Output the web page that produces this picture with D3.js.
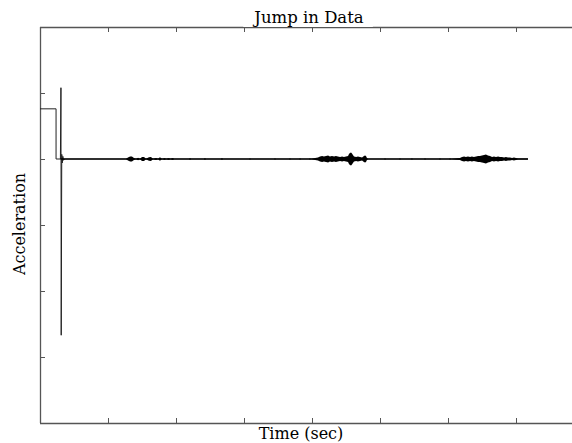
<!DOCTYPE html>
<html>
<head>
<meta charset="utf-8">
<script src="https://cdn.jsdelivr.net/npm/d3@7"></script>
<style>
body{margin:0;background:#fff;}
svg{display:block;}
text{font-family:"DejaVu Serif",serif;fill:#000;}
</style>
</head>
<body>
<svg id="chart" width="572" height="443"></svg>
<script>
const title = "Jump in Data";
const xLabel = "Time (sec)";
const yLabel = "Acceleration";
const xTicks = [0,5,10,15,20,25,30,35,40];
const yTicks = [-4,-3,-2,-1,0,1,2];

// step + jump at the start of the record
const startT = [0, 1.18, 1.18, 1.50, 1.54, 1.56, 1.60, 1.64, 1.68, 1.72, 1.80];
const startV = [0.76, 0.76, 0, 0, 1.08, -2.67, 0.07, -0.06, 0.04, -0.02, 0];

// dense oscillation of the remaining record, given as its envelope (time, half-amplitude)
const noiseT = [
 1.62, 6.32, 6.47, 6.62, 6.76, 6.91, 7.06, 7.21, 7.35, 7.50, 7.65, 7.79,
 8.01, 8.16, 8.31, 8.53, 8.68, 8.82, 8.97, 9.19, 9.26, 9.49, 9.56, 9.78, 9.85,
 10.96, 11.03, 11.10, 12.06, 12.13, 12.20, 13.31, 13.38, 13.45,
 15.37, 15.44, 15.51, 17.21, 17.28, 17.35, 18.31, 18.38, 18.45,
 19.05, 19.12, 19.19, 19.78, 19.85, 19.92,
 20.44, 20.59, 20.74, 20.88, 21.03, 21.18, 21.32, 21.47, 21.62, 21.76, 21.91,
 22.06, 22.21, 22.35, 22.50, 22.65, 22.72, 22.79, 22.87, 22.94, 23.01, 23.09,
 23.24, 23.38, 23.53, 23.68, 23.82, 23.90, 23.97, 24.04, 24.12,
 25.30, 25.37, 25.44, 26.40, 26.47, 26.54, 27.28, 27.35, 27.42,
 28.24, 28.31, 28.38, 29.34, 29.41, 29.48, 30.08, 30.15, 30.22,
 30.88, 31.03, 31.18, 31.32, 31.47, 31.62, 31.76, 31.91, 32.06, 32.21,
 32.35, 32.50, 32.65, 32.79, 32.94, 33.09, 33.24, 33.38, 33.53, 33.68,
 33.82, 33.97, 34.12, 34.26, 34.41, 34.56, 34.71, 34.85, 35.00, 35.15, 35.88
];
const noiseA = [
 0.004, 0.004, 0.023, 0.038, 0.038, 0.015, 0.004, 0.018, 0.004, 0.030, 0.030, 0.004,
 0.027, 0.030, 0.004, 0.015, 0.004, 0.027, 0.004, 0.015, 0.004, 0.015, 0.004, 0.015, 0.004,
 0.004, 0.015, 0.004, 0.004, 0.015, 0.004, 0.004, 0.015, 0.004,
 0.004, 0.012, 0.004, 0.004, 0.012, 0.004, 0.004, 0.012, 0.004,
 0.004, 0.012, 0.004, 0.004, 0.012, 0.004,
 0.023, 0.038, 0.045, 0.038, 0.045, 0.053, 0.038, 0.045, 0.038, 0.045, 0.038,
 0.030, 0.038, 0.030, 0.038, 0.045, 0.076, 0.091, 0.098, 0.083, 0.061, 0.038,
 0.030, 0.038, 0.030, 0.023, 0.045, 0.053, 0.045, 0.015, 0.004,
 0.004, 0.012, 0.004, 0.004, 0.012, 0.004, 0.004, 0.012, 0.004,
 0.004, 0.012, 0.004, 0.004, 0.012, 0.004, 0.004, 0.012, 0.004,
 0.015, 0.030, 0.038, 0.030, 0.038, 0.030, 0.038, 0.030, 0.038, 0.045,
 0.045, 0.053, 0.061, 0.068, 0.053, 0.045, 0.030, 0.038, 0.030, 0.038,
 0.030, 0.030, 0.023, 0.030, 0.023, 0.023, 0.015, 0.023, 0.015, 0.008, 0.008
];

const svg = d3.select("#chart");
const x = d3.scaleLinear().domain([0,40]).range([40,584]);
const y = d3.scaleLinear().domain([-4,2]).range([423,27]);

const axisColor = "#555";
const tl = 5;
const g = svg.append("g");

// frame lines
g.append("line").attr("x1",x(0)).attr("x2",x(40)).attr("y1",y(-4)+0.5).attr("y2",y(-4)+0.5).attr("stroke",axisColor).attr("stroke-width",1.3);
g.append("line").attr("x1",x(0)).attr("x2",x(40)).attr("y1",y(2)+0.5).attr("y2",y(2)+0.5).attr("stroke",axisColor).attr("stroke-width",1.3);
g.append("line").attr("x1",x(0)+0.5).attr("x2",x(0)+0.5).attr("y1",y(2)).attr("y2",y(-4)).attr("stroke",axisColor).attr("stroke-width",1.3);

// ticks
xTicks.forEach(t=>{
  const px = Math.round(x(t))+0.5;
  g.append("line").attr("x1",px).attr("x2",px).attr("y1",y(-4)).attr("y2",y(-4)-tl).attr("stroke",axisColor);
  g.append("line").attr("x1",px).attr("x2",px).attr("y1",y(2)).attr("y2",y(2)+tl).attr("stroke",axisColor);
});
yTicks.forEach(t=>{
  const py = Math.round(y(t))+0.5;
  g.append("line").attr("x1",x(0)).attr("x2",x(0)+tl).attr("y1",py).attr("y2",py).attr("stroke",axisColor);
});

// start of record (step and jump)
const startPts = startT.map((t,i)=>[t,startV[i]]);
const line = d3.line().x(d=>x(d[0])).y(d=>y(d[1]));
svg.append("path").datum(startPts).attr("d",line).attr("fill","none").attr("stroke","#222").attr("stroke-width",1);

// noise envelope
const env = noiseT.map((t,i)=>[t,noiseA[i]]);
const area = d3.area().x(d=>x(d[0])).y0(d=>y(-d[1])).y1(d=>y(d[1]));
svg.append("path").datum(env).attr("d",area).attr("fill","#000");
// baseline of the record
svg.append("path").datum([[startT[3],0],[noiseT[noiseT.length-1],0]]).attr("d",line)
  .attr("fill","none").attr("stroke","#000").attr("stroke-width",1.3);

// title with white background masking the top frame
const tt = svg.append("text").attr("x",309).attr("y",23).attr("text-anchor","middle").attr("font-size",16.5).text(title);
const bb = tt.node().getBBox();
svg.insert("rect","text").attr("x",bb.x-9).attr("y",bb.y).attr("width",bb.width+18).attr("height",bb.height).attr("fill","#fff");

svg.append("text").attr("x",301).attr("y",439).attr("text-anchor","middle").attr("font-size",16).text(xLabel);
svg.append("text").attr("transform","translate(25,224) rotate(-90)").attr("text-anchor","middle").attr("font-size",16).text(yLabel);
</script>
</body>
</html>
